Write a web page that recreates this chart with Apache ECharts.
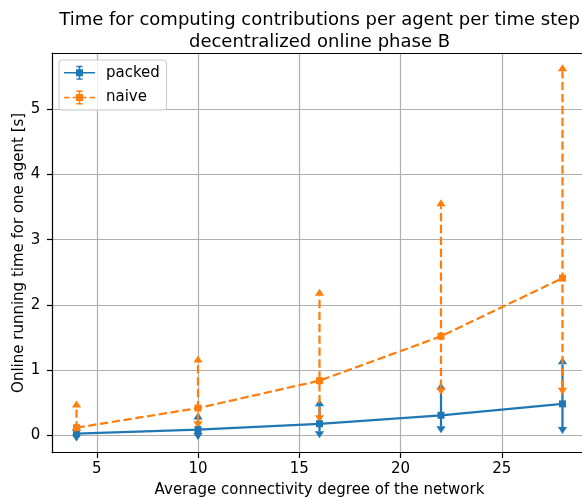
<!DOCTYPE html>
<html>
<head>
<meta charset="utf-8">
<script src="https://cdn.jsdelivr.net/npm/echarts@6/dist/echarts.min.js"></script>
<style>
  html, body { margin: 0; padding: 0; background: #fff; overflow: hidden; }
  #chart { width: 582px; height: 499px; }
</style>
</head>
<body>
<div id="chart"></div>
<script>
// Average connectivity degree of the network
const degrees = [4, 10, 16, 22, 28];

// packed: mean running time and lower / upper ends of the spread [s]
const packedMean = [0.03, 0.09, 0.18, 0.31, 0.485];
const packedLow  = [0.015, 0.04, 0.066, 0.14, 0.13];
const packedHigh = [0.08, 0.245, 0.45, 0.70, 1.09];

// naive: mean running time and lower / upper ends of the spread [s]
const naiveMean = [0.12, 0.42, 0.84, 1.52, 2.41];
const naiveLow  = [0.09, 0.22, 0.31, 0.73, 0.73];
const naiveHigh = [0.43, 1.12, 2.14, 3.51, 5.58];

const yTicks = [0, 1, 2, 3, 4, 5];
const xTicks = [5, 10, 15, 20, 25];

const BLUE = '#1f77b4';
const ORANGE = '#ff7f0e';
const FONT = 'DejaVu Sans';
const DASH = [8.3, 3.6];

// axis limits: data extent plus a 5 % margin on each side
function paddedRange(lo, hi) {
  const pad = 0.05 * (hi - lo);
  return [lo - pad, hi + pad];
}
const xRange = paddedRange(Math.min(...degrees), Math.max(...degrees));
const yRange = paddedRange(
  Math.min(...packedLow, ...naiveLow),
  Math.max(...packedHigh, ...naiveHigh)
);

function zip(...cols) {
  return cols[0].map((_, i) => cols.map(c => c[i]));
}

// vertical spread bar with caret markers at both ends
function errorBar(color, dashed) {
  return function (params, api) {
    const x = api.value(0);
    const pLo = api.coord([x, api.value(1)]);
    const pHi = api.coord([x, api.value(2)]);
    const w = 4.6, h = 7;
    return {
      type: 'group',
      children: [
        {
          type: 'line',
          shape: { x1: pLo[0], y1: pLo[1], x2: pHi[0], y2: pHi[1] },
          style: { stroke: color, lineWidth: 2.25, lineDash: dashed ? DASH : null }
        },
        {
          type: 'polygon',
          shape: { points: [[pHi[0] - w, pHi[1]], [pHi[0] + w, pHi[1]], [pHi[0], pHi[1] - h]] },
          style: { fill: color }
        },
        {
          type: 'polygon',
          shape: { points: [[pLo[0] - w, pLo[1]], [pLo[0] + w, pLo[1]], [pLo[0], pLo[1] + h]] },
          style: { fill: color }
        }
      ]
    };
  };
}

// legend glyphs: line + square marker + capped vertical bar (31 x 14)
const glyphBar = 'M14.7 0.7H16.3V13.3H14.7Z M12.4 0H18.6V1.4H12.4Z M12.4 12.6H18.6V14H12.4Z M12 3.5H19V10.5H12Z';
const packedIcon = 'path://M0 6.2H31V7.8H0Z ' + glyphBar;
const naiveIcon = 'path://M0 6.2H5.5V7.8H0Z M8.5 6.2H12V7.8H8.5Z M19 6.2H22.5V7.8H19Z M25.5 6.2H31V7.8H25.5Z ' + glyphBar;

const chart = echarts.init(document.getElementById('chart'), null, { renderer: 'canvas' });

const spine = { show: true, onZero: false, lineStyle: { color: '#000', width: 1.2 } };
const tickLine = { color: '#000', width: 1.2 };
const gridLine = { show: true, lineStyle: { color: '#b0b0b0', width: 1.2 } };

chart.setOption({
  animation: false,
  backgroundColor: '#ffffff',
  textStyle: { fontFamily: FONT },
  title: {
    text: 'Time for computing contributions per agent per time step\ndecentralized online phase B',
    left: 319.5,
    top: 10,
    textAlign: 'center',
    padding: 0,
    textStyle: { fontFamily: FONT, fontSize: 18, fontWeight: 'normal', color: '#000', lineHeight: 21.6 }
  },
  legend: {
    orient: 'vertical',
    left: 59,
    top: 60,
    padding: [5.3, 6.6, 5, 5],
    itemWidth: 31,
    itemHeight: 14,
    itemGap: 9.7,
    borderColor: '#cccccc',
    borderWidth: 1,
    borderRadius: 3,
    backgroundColor: 'rgba(255,255,255,0.8)',
    selectedMode: false,
    textStyle: { fontFamily: FONT, fontSize: 15, color: '#000', padding: [0, 0, 0, 6] },
    data: [
      { name: 'packed', icon: packedIcon, itemStyle: { color: BLUE } },
      { name: 'naive', icon: naiveIcon, itemStyle: { color: ORANGE } }
    ]
  },
  grid: {
    left: 52.2,
    top: 53,
    width: 534.6,
    height: 399.7,
    show: false,
    outerBoundsMode: 'none',
    containLabel: false
  },
  xAxis: [
    {
      type: 'value',
      min: xRange[0],
      max: xRange[1],
      name: 'Average connectivity degree of the network',
      nameLocation: 'middle',
      nameGap: 30,
      nameMoveOverlap: false,
      nameTextStyle: { fontFamily: FONT, fontSize: 15, color: '#000' },
      axisLine: spine,
      axisTick: { show: true, customValues: xTicks, length: 5.25, lineStyle: tickLine },
      axisLabel: { customValues: xTicks, margin: 9, fontFamily: FONT, fontSize: 15, color: '#000' },
      splitLine: gridLine
    },
    {
      // top spine
      type: 'value',
      position: 'top',
      min: xRange[0],
      max: xRange[1],
      axisLine: spine,
      axisTick: { show: false },
      axisLabel: { show: false },
      splitLine: { show: false }
    }
  ],
  yAxis: {
    type: 'value',
    min: yRange[0],
    max: yRange[1],
    name: 'Online running time for one agent [s]',
    nameLocation: 'middle',
    nameRotate: 90,
    nameGap: 26,
    nameMoveOverlap: false,
    nameTextStyle: { fontFamily: FONT, fontSize: 15, color: '#000' },
    axisLine: spine,
    axisTick: { show: true, customValues: yTicks, length: 5.25, lineStyle: tickLine },
    axisLabel: { customValues: yTicks, margin: 12, fontFamily: FONT, fontSize: 15, color: '#000' },
    splitLine: gridLine
  },
  series: [
    {
      name: 'packed spread',
      type: 'custom',
      z: 2,
      renderItem: errorBar(BLUE, false),
      data: zip(degrees, packedLow, packedHigh),
      encode: { x: 0, y: [1, 2] }
    },
    {
      name: 'naive spread',
      type: 'custom',
      z: 2,
      renderItem: errorBar(ORANGE, true),
      data: zip(degrees, naiveLow, naiveHigh),
      encode: { x: 0, y: [1, 2] }
    },
    {
      name: 'packed',
      type: 'line',
      z: 3,
      data: zip(degrees, packedMean),
      symbol: 'rect',
      symbolSize: 7,
      showSymbol: true,
      itemStyle: { color: BLUE },
      lineStyle: { color: BLUE, width: 2.25 }
    },
    {
      name: 'naive',
      type: 'line',
      z: 3,
      data: zip(degrees, naiveMean),
      symbol: 'rect',
      symbolSize: 7,
      showSymbol: true,
      itemStyle: { color: ORANGE },
      lineStyle: { color: ORANGE, width: 2.25, type: DASH }
    }
  ]
});
</script>
</body>
</html>
